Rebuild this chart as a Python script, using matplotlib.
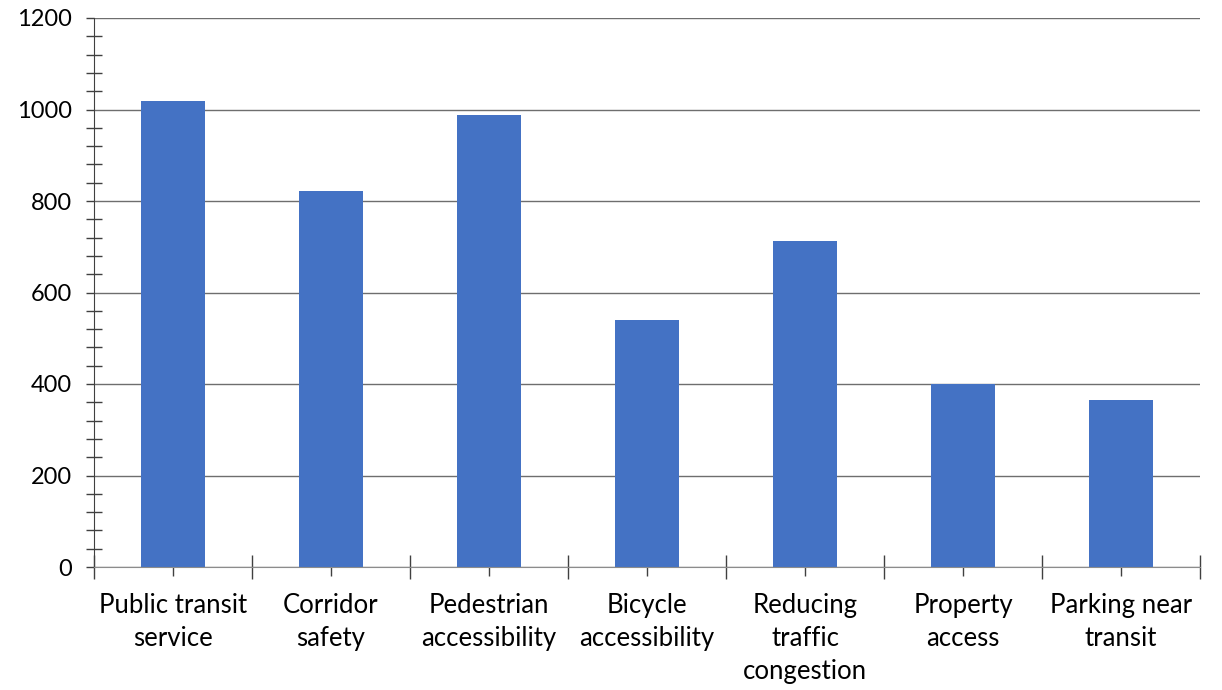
import numpy as np
import matplotlib
matplotlib.use("Agg")
import matplotlib.pyplot as plt
from matplotlib.ticker import MultipleLocator, FixedLocator, NullFormatter

# Survey priorities
categories = ["Public transit\nservice", "Corridor\nsafety", "Pedestrian\naccessibility",
              "Bicycle\naccessibility", "Reducing\ntraffic\ncongestion", "Property\naccess",
              "Parking near\ntransit"]
values = [1018, 821, 988, 540, 712, 401, 364]

plt.rcParams['font.family'] = ['Lato', 'DejaVu Sans']

fig = plt.figure(figsize=(12.22, 6.9), dpi=100)
ax = fig.add_axes([94 / 1222, (690 - 567) / 690, (1200 - 94) / 1222, (567 - 18) / 690])

x = np.arange(len(categories))
ax.bar(x, values, width=0.4, color='#4472C4', zorder=3)

ax.set_xlim(-0.5, len(categories) - 0.5)
ax.set_ylim(0, 1200)

# y axis: gridlines every 200, minor ticks every 40
ax.yaxis.set_major_locator(MultipleLocator(200))
ax.yaxis.set_minor_locator(MultipleLocator(40))
ax.grid(axis='y', which='major', color='#6e6e6e', linewidth=1.0, zorder=0)
ax.tick_params(axis='y', which='major', direction='out', length=6, width=1,
               color='#404040', labelsize=17, pad=10)
ax.tick_params(axis='y', which='minor', direction='inout', length=11, width=1,
               color='#404040')

# x axis: boundary ticks as major, labels at centers as minor
ax.xaxis.set_major_locator(FixedLocator(np.arange(-0.5, len(categories), 1.0)))
ax.xaxis.set_major_formatter(NullFormatter())
ax.xaxis.set_minor_locator(FixedLocator(x))
ax.set_xticklabels(categories, minor=True)
ax.tick_params(axis='x', which='major', direction='inout', length=17, width=1,
               color='#404040')
ax.tick_params(axis='x', which='minor', direction='inout', length=13, width=1,
               color='#404040', labelsize=18.5, pad=12)
for lbl in ax.get_xticklabels(minor=True):
    lbl.set_linespacing(1.42)

for s in ['top', 'right']:
    ax.spines[s].set_visible(False)
ax.spines['left'].set_color('#404040')
ax.spines['bottom'].set_color('#8c8c8c')
ax.spines['left'].set_zorder(4)
ax.spines['bottom'].set_zorder(4)

fig.savefig("out.png", dpi=100)
